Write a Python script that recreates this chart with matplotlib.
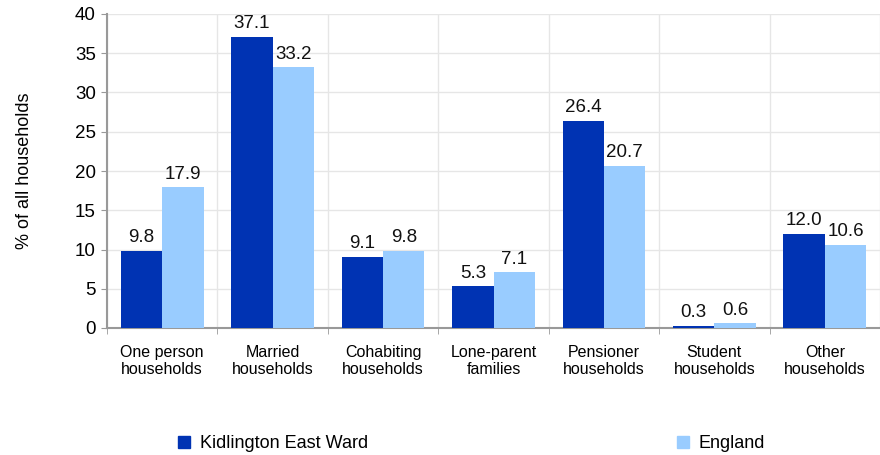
import matplotlib
matplotlib.use("Agg")
import matplotlib.pyplot as plt
import numpy as np

plt.rcParams['font.family'] = ['Liberation Sans', 'DejaVu Sans']

categories = ["One person\nhouseholds", "Married\nhouseholds", "Cohabiting\nhouseholds",
              "Lone-parent\nfamilies", "Pensioner\nhouseholds", "Student\nhouseholds",
              "Other\nhouseholds"]
ward = [9.8, 37.1, 9.1, 5.3, 26.4, 0.3, 12.0]
england = [17.9, 33.2, 9.8, 7.1, 20.7, 0.6, 10.6]
series_names = ["Kidlington East Ward", "England"]
dark = "#0033B3"
light = "#99CCFF"

fig = plt.figure(figsize=(8.8, 4.55), dpi=100)
ax = fig.add_axes([107/880, 1-328/455, 1-107/880, (328-14)/455])

x = np.arange(len(categories))
w = 0.375
b1 = ax.bar(x - w/2, ward, w, color=dark, label=series_names[0], zorder=3)
b2 = ax.bar(x + w/2, england, w, color=light, label=series_names[1], zorder=3)

for bars in (b1, b2):
    for r in bars:
        ax.text(r.get_x() + r.get_width()/2, r.get_height() + 0.6, f"{r.get_height():.1f}",
                ha="center", va="bottom", fontsize=13.5, color="#111111")

ax.set_xlim(-0.5, len(categories) - 0.5)
ax.set_ylim(0, 40)
ax.set_yticks(np.arange(0, 41, 5))
ax.tick_params(axis="y", labelsize=13.5, length=4, color="#999999", pad=4)
ax.set_xticks(x)
ax.set_xticklabels(categories, fontsize=11.5)
ax.tick_params(axis="x", length=0, pad=12)
ax.set_xticks(np.arange(-0.5, len(categories), 1), minor=True)
ax.tick_params(axis="x", which="minor", length=4, color="#999999")
ax.set_ylabel("% of all households", fontsize=13, labelpad=30)

ax.grid(axis="y", color="#E6E6E6", linewidth=1, zorder=0)
ax.grid(axis="x", which="minor", color="#E6E6E6", linewidth=1, zorder=0)
for s in ("top", "right"):
    ax.spines[s].set_visible(False)
for s in ("left", "bottom"):
    ax.spines[s].set_color("#999999")
    ax.spines[s].set_linewidth(1.5)

handles = [plt.Rectangle((0, 0), 1, 1, color=c) for c in (dark, light)]
fig.legend([handles[0]], [series_names[0]], loc="center left", bbox_to_anchor=(162/880, 1-444/455),
           frameon=False, fontsize=13, handlelength=0.65, handleheight=0.65, handletextpad=0.55)
fig.legend([handles[1]], [series_names[1]], loc="center left", bbox_to_anchor=(661/880, 1-444/455),
           frameon=False, fontsize=13, handlelength=0.65, handleheight=0.65, handletextpad=0.55)

fig.savefig("out.png", dpi=100)
